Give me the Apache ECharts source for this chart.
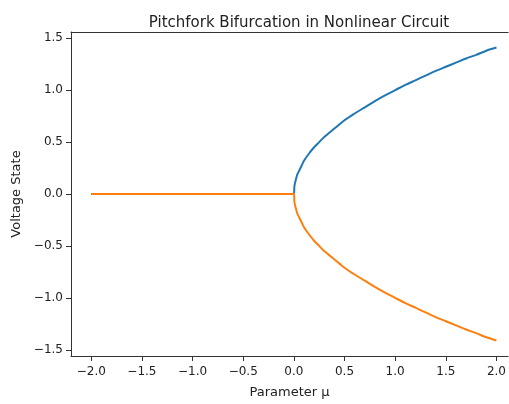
<!DOCTYPE html>
<html>
<head>
<meta charset="utf-8">
<script src="https://cdn.jsdelivr.net/npm/echarts@6/dist/echarts.min.js"></script>
<style>
  html, body { margin: 0; padding: 0; background: #fff; }
  #chart { width: 509px; height: 404px; }
</style>
</head>
<body>
<div id="chart"></div>
<script>
// 参数 μ（负半轴：单一稳定点 0）
const muLeft = [-2.0, -1.5, -1.0, -0.5, 0.0];
const stateLeft = [0, 0, 0, 0, 0];
// 参数 μ（正半轴：分叉后的两支）
const muRight = [0.0, 0.005, 0.01, 0.02, 0.035, 0.05, 0.075, 0.1, 0.15, 0.2, 0.25, 0.3, 0.4, 0.5, 0.6, 0.7, 0.8, 0.9, 1.0, 1.1, 1.2, 1.3, 1.4, 1.5, 1.6, 1.7, 1.8, 1.9, 2.0];
const upperBranch = [0, 0.07, 0.1, 0.14, 0.19, 0.22, 0.27, 0.32, 0.39, 0.45, 0.5, 0.55, 0.63, 0.71, 0.775, 0.835, 0.895, 0.95, 1.0, 1.05, 1.095, 1.14, 1.185, 1.225, 1.265, 1.305, 1.34, 1.38, 1.41];
const lowerBranch = [0, -0.07, -0.1, -0.14, -0.19, -0.22, -0.27, -0.32, -0.39, -0.45, -0.5, -0.55, -0.63, -0.71, -0.775, -0.835, -0.895, -0.95, -1.0, -1.05, -1.095, -1.14, -1.185, -1.225, -1.265, -1.305, -1.34, -1.38, -1.41];
// 刻度
const xTicks = [-2.0, -1.5, -1.0, -0.5, 0.0, 0.5, 1.0, 1.5, 2.0];
const yTicks = [-1.5, -1.0, -0.5, 0.0, 0.5, 1.0, 1.5];

function pairs(xs, ys) {
    let out = [];
    for (let i = 0; i < xs.length; i++) {
        out.push([xs[i], ys[i]]);
    }
    return out;
}
function fmt(v) {
    return v.toFixed(1).replace('-', '\u2212');
}

const font = 'DejaVu Sans';
const xMin = -2.2, xMax = 2.115;
const blueData = pairs(muLeft, stateLeft).concat(pairs(muRight, upperBranch).slice(1));
const orangeData = pairs(muLeft, stateLeft).concat(pairs(muRight, lowerBranch).slice(1));

let myChart = echarts.init(document.getElementById('chart'), null, { renderer: 'canvas' });
let options = {
    animation: false,
    backgroundColor: '#fff',
    title: {
        text: 'Pitchfork Bifurcation in Nonlinear Circuit',
        left: 294,
        textAlign: 'center',
        top: 11,
        textStyle: { fontFamily: font, fontSize: 15, fontWeight: 'normal', color: '#222' }
    },
    // 参考图右侧被裁掉，所以不画右边框
    grid: { left: 71, right: 0, top: 32, bottom: 40 },
    xAxis: [
        {
            type: 'value',
            min: xMin, max: xMax,
            name: 'Parameter μ',
            nameLocation: 'middle',
            nameGap: 30,
            nameTextStyle: { fontFamily: font, fontSize: 13, color: '#222' },
            splitLine: { show: false },
            axisLine: { onZero: false, lineStyle: { color: '#333', width: 1 } },
            axisTick: { show: true, length: 5, customValues: xTicks, lineStyle: { color: '#333' } },
            axisLabel: {
                customValues: xTicks, formatter: fmt, margin: 10,
                fontFamily: font, fontSize: 12, color: '#222'
            }
        },
        {
            // 上边框
            type: 'value', position: 'top',
            min: xMin, max: xMax,
            splitLine: { show: false },
            axisLine: { show: true, onZero: false, lineStyle: { color: '#333', width: 1 } },
            axisTick: { show: false },
            axisLabel: { show: false }
        }
    ],
    yAxis: {
        type: 'value',
        min: -1.56, max: 1.56,
        name: 'Voltage State',
        nameLocation: 'middle',
        nameGap: 45,
        nameTextStyle: { fontFamily: font, fontSize: 13, color: '#222' },
        splitLine: { show: false },
        axisLine: { show: true, onZero: false, lineStyle: { color: '#333', width: 1 } },
        axisTick: { show: true, length: 5, customValues: yTicks, lineStyle: { color: '#333' } },
        axisLabel: {
            customValues: yTicks, formatter: fmt, margin: 8,
            fontFamily: font, fontSize: 12, color: '#222'
        }
    },
    series: [
        {
            type: 'line', data: blueData, symbol: 'none', smooth: 0.3,
            lineStyle: { color: '#1f77b4', width: 2 }
        },
        {
            type: 'line', data: orangeData, symbol: 'none', smooth: 0.3,
            lineStyle: { color: '#ff7f0e', width: 2 }
        }
    ]
};
myChart.setOption(options);
</script>
</body>
</html>
